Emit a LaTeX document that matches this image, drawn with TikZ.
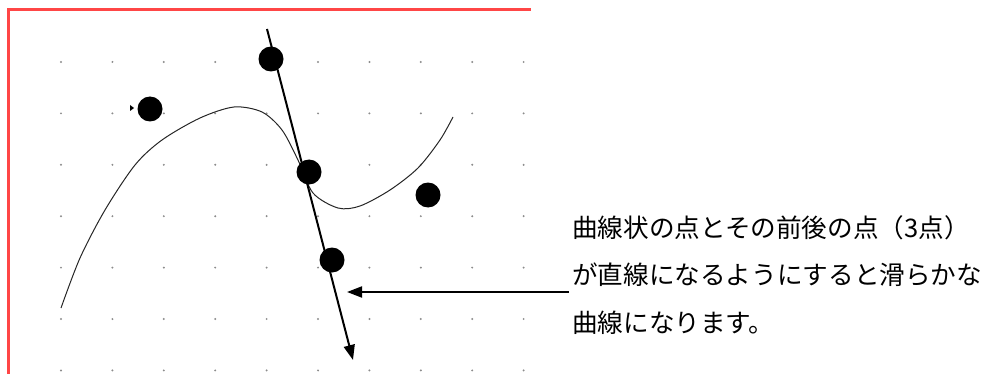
\documentclass[tikz,border=0pt]{standalone}
\usepackage{fontspec}
\newfontfamily\jpfont{Noto Sans CJK JP}
\usetikzlibrary{arrows.meta}
\definecolor{framered}{RGB}{255,70,70}
\begin{document}
\begin{tikzpicture}[x=1pt, y=-1pt,
    blob/.style={circle, fill=black, inner sep=0pt, minimum size=25pt},
    griddot/.style={fill=black!45},
    arrow/.style={-{Triangle[length=15pt, width=11pt]}, line width=2pt},
    curve/.style={line width=1pt, black!85},
    note/.style={font=\jpfont\fontsize{25.6}{47.5}\selectfont, align=left, anchor=west, inner sep=0pt}
  ]
    \useasboundingbox (0,0) rectangle (992,374);
    \draw[framered, line width=2.5pt] (8.5,374) -- (8.5,9.5) -- (531,9.5);
    \foreach \i in {0,...,9}
      \foreach \j in {0,...,6}
        \fill[griddot] (61+51.4*\i, 62+51.4*\j) circle (1.1pt);
    \draw[curve] plot[smooth] coordinates {(61,308) (80,258) (105,210) (135,165) (162,140) (200,118)
      (234,107) (262,112) (282,130) (298,160) (313,193) (338,208) (360,206) (390,190) (418,168) (440,140) (453,117)};
    \fill (130,105) -- (134,108) -- (130,111) -- cycle;
    \node[blob] (p1) at (271,59) {};
    \node[blob] (p2) at (150,109) {};
    \node[blob] (p3) at (309,172) {};
    \node[blob] (p4) at (428,195) {};
    \node[blob] (p5) at (332,260) {};
    \coordinate (top) at (267,29);
    \coordinate (tip) at (353,360);
    \draw[arrow] (top) -- (tip);
    \node[note] (txt) at (572,275) {曲線状の点とその前後の点（3点）\\が直線になるようにすると滑らかな\\曲線になります。};
    \coordinate (from) at (569,292);
    \coordinate (to) at (347,292);
    \draw[arrow] (from) -- (to);
\end{tikzpicture}
\end{document}
